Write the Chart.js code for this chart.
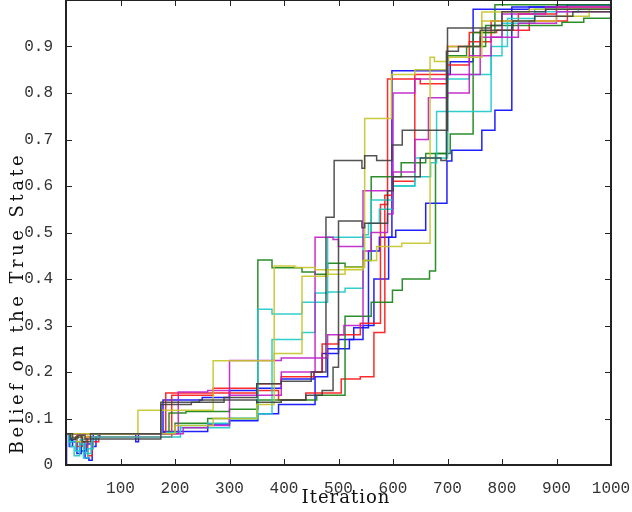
<!DOCTYPE html>
<html>
<head>
<meta charset="utf-8">
<script src="https://cdn.jsdelivr.net/npm/chart.js@4.4.0/dist/chart.umd.min.js"></script>
<style>
  html, body { margin: 0; padding: 0; background: #fff; }
  #wrap { width: 632px; height: 512px; }
</style>
</head>
<body>
<div id="wrap"><canvas id="beliefChart"></canvas></div>
<script>
// axis ticks
const iterTicks = [100, 200, 300, 400, 500, 600, 700, 800, 900, 1000];
const beliefTicks = [0, 0.1, 0.2, 0.3, 0.4, 0.5, 0.6, 0.7, 0.8, 0.9];
const lastIter = 1000;

// each run: [iteration, belief] where the belief changes
const blueA = [[0,0],[1,.067],[6,.04],[12,.055],[20,.025],[28,.05],[35,.015],[42,.01],[48,.04],[55,.06],[62,.067],[128,.05],[133,.067],[180,.072],[260,.088],[300,.095],[352,.11],[390,.13],[457,.19],[480,.25],[520,.27],[545,.3],[565,.4],[592,.49],[605,.505],[660,.563],[699,.654],[708,.677],[763,.72],[787,.763],[818,.985],[900,.99]];
const blueB = [[0,.067],[10,.05],[25,.03],[38,.045],[50,.067],[178,.14],[250,.145],[300,.16],[350,.165],[395,.185],[455,.2],[470,.24],[500,.27],[528,.295],[555,.46],[575,.49],[598,.848],[700,.84],[705,.867],[747,.98],[850,.985],[920,.99]];
const grayA = [[0,.067],[8,.055],[18,.06],[30,.05],[45,.067],[174,.135],[245,.14],[290,.145],[350,.175],[395,.18],[450,.2],[477,.533],[492,.655],[543,.638],[548,.665],[570,.655],[598,.688],[617,.72],[655,.72],[700,.94],[780,.945],[800,.975],[880,.98]];
const grayB = [[0,.067],[12,.058],[22,.064],[35,.056],[174,.13],[230,.135],[290,.14],[350,.135],[395,.14],[440,.15],[470,.16],[490,.21],[500,.525],[543,.51],[548,.52],[590,.59],[600,.62],[650,.66],[688,.655],[698,.89],[720,.9],[760,.935],[820,.955],[860,.965],[930,.975]];
const redA = [[0,.067],[20,.04],[30,.055],[40,.02],[48,.05],[60,.067],[183,.155],[270,.165],[350,.175],[395,.19],[455,.2],[470,.26],[500,.28],[540,.305],[577,.56],[590,.83],[650,.82],[700,.9],[740,.91],[780,.955],[830,.97],[900,.985]];
const redB = [[0,.067],[28,.05],[38,.06],[194,.15],[270,.155],[350,.16],[390,.14],[440,.155],[505,.185],[540,.19],[565,.285],[585,.58],[600,.61],[640,.84],[700,.86],[740,.93],[790,.935],[850,.955],[920,.98]];
const greenA = [[0,.067],[189,.112],[220,.115],[300,.12],[352,.441],[378,.424],[433,.415],[457,.41],[480,.434],[512,.426],[545,.44],[560,.62],[615,.65],[660,.67],[700,.88],[735,.9],[770,.945],[910,.952],[950,.961]];
const greenB = [[0,.067],[200,.09],[260,.1],[350,.14],[395,.14],[460,.15],[512,.32],[560,.35],[599,.376],[617,.4],[667,.417],[678,.67],[705,.712],[747,.93],[787,.99],[900,.99]];
const cyanA = [[0,.067],[8,.04],[15,.02],[25,.045],[32,.015],[40,.035],[50,.055],[58,.067],[185,.07],[210,.085],[260,.09],[300,.1],[352,.335],[378,.325],[433,.35],[457,.37],[480,.372],[512,.38],[545,.49],[560,.57],[600,.6],[640,.62],[669,.65],[680,.76],[740,.76],[780,.9],[810,.96],[860,.975],[940,.98]];
const cyanB = [[0,.067],[5,.05],[18,.03],[26,.055],[36,.025],[46,.06],[210,.08],[300,.1],[352,.11],[378,.27],[433,.285],[457,.35],[480,.49],[545,.495],[555,.52],[575,.55],[600,.6],[640,.66],[700,.83],[740,.84],[780,.88],[800,.95],[860,.98]];
const magentaA = [[0,.067],[206,.157],[260,.16],[300,.15],[350,.15],[395,.2],[457,.49],[490,.485],[500,.47],[545,.59],[580,.59],[600,.8],[640,.83],[700,.84],[760,.92],[800,.97],[880,.985]];
const magentaB = [[0,.067],[215,.08],[260,.085],[300,.225],[395,.23],[457,.23],[480,.28],[510,.3],[545,.46],[560,.5],[590,.54],[600,.63],[640,.7],[665,.79],[700,.8],[740,.88],[780,.92],[830,.95],[900,.975]];
const yellowA = [[0,.067],[10,.06],[20,.05],[30,.06],[40,.067],[132,.118],[270,.224],[382,.428],[420,.425],[457,.42],[480,.41],[512,.425],[548,.745],[597,.84],[640,.85],[700,.9],[763,.974],[850,.98]];
const yellowB = [[0,.067],[200,.085],[270,.1],[350,.13],[382,.24],[433,.406],[480,.42],[545,.44],[570,.47],[616,.477],[668,.877],[676,.868],[702,.877],[763,.955],[900,.965],[960,.98]];

const runs = [
    { data: grayA, color: 'rgba(64,64,64,0.9)' },
    { data: grayB, color: 'rgba(64,64,64,0.9)' },
    { data: yellowA, color: 'rgba(196,196,40,0.9)' },
    { data: yellowB, color: 'rgba(196,196,40,0.9)' },
    { data: magentaA, color: 'rgba(190,30,200,0.9)' },
    { data: magentaB, color: 'rgba(190,30,200,0.9)' },
    { data: cyanA, color: 'rgba(30,200,200,0.9)' },
    { data: cyanB, color: 'rgba(30,200,200,0.9)' },
    { data: greenA, color: 'rgba(20,130,20,0.9)' },
    { data: greenB, color: 'rgba(20,130,20,0.9)' },
    { data: redA, color: 'rgba(255,20,20,0.9)' },
    { data: redB, color: 'rgba(255,20,20,0.9)' },
    { data: blueA, color: 'rgba(20,20,255,0.95)' },
    { data: blueB, color: 'rgba(20,20,255,0.95)' }
];

// box + inward ticks + axis titles (matlab style)
const frame = {
    id: 'frame',
    afterDraw(chart) {
        const { ctx, chartArea: a, scales: { x, y } } = chart;
        ctx.save();
        ctx.strokeStyle = '#222'; ctx.lineWidth = 1;
        iterTicks.forEach(v => {
            const px = Math.round(x.getPixelForValue(v)) + 0.5;
            ctx.beginPath(); ctx.moveTo(px, a.bottom); ctx.lineTo(px, a.bottom - 6);
            ctx.moveTo(px, a.top); ctx.lineTo(px, a.top + 6); ctx.stroke();
        });
        beliefTicks.forEach(v => {
            const py = Math.round(y.getPixelForValue(v)) + 0.5;
            ctx.beginPath(); ctx.moveTo(a.left, py); ctx.lineTo(a.left + 6, py);
            ctx.moveTo(a.right, py); ctx.lineTo(a.right - 6, py); ctx.stroke();
        });
        ctx.lineWidth = 2;
        ctx.strokeRect(a.left, a.top, a.right - a.left, a.bottom - a.top);

        ctx.fillStyle = '#111';
        ctx.textAlign = 'center'; ctx.textBaseline = 'alphabetic';
        ctx.font = '18px "DejaVu Serif"';
        ctx.letterSpacing = '1px';
        ctx.fillText('Iteration', 346, 503);
        ctx.letterSpacing = '3.5px';
        ctx.translate(23, 303); ctx.rotate(-Math.PI / 2);
        ctx.fillText('Belief on the True State', 0, 0);
        ctx.restore();
    }
};

new Chart(document.getElementById('beliefChart').getContext('2d'), {
    type: 'line',
    data: {
        datasets: runs.map(r => {
            const pts = r.data.map(p => ({ x: p[0], y: p[1] }));
            pts.push({ x: lastIter, y: r.data[r.data.length - 1][1] });
            return { data: pts, borderColor: r.color, borderWidth: 1.5, stepped: true, pointRadius: 0, fill: false };
        })
    },
    options: {
        responsive: true, maintainAspectRatio: false, animation: false,
        layout: { padding: { left: 0, right: 21, top: 0, bottom: 0 } },
        plugins: { legend: { display: false }, tooltip: { enabled: false } },
        scales: {
            x: {
                type: 'linear', min: 0, max: 1000,
                afterFit: s => { s.height = 47; s.paddingLeft = 0; s.paddingRight = 0; },
                afterBuildTicks: s => { s.ticks = iterTicks.map(v => ({ value: v })); },
                grid: { display: false }, border: { display: false },
                ticks: { color: '#333', padding: 6, maxRotation: 0, font: { family: 'Liberation Mono', size: 16 },
                         callback: v => String(v) }
            },
            y: {
                min: 0, max: 1,
                afterFit: s => { s.width = 66; s.paddingTop = 0; s.paddingBottom = 0; },
                afterBuildTicks: s => { s.ticks = beliefTicks.map(v => ({ value: v })); },
                grid: { display: false }, border: { display: false },
                ticks: { color: '#333', padding: 5, font: { family: 'Liberation Mono', size: 16 },
                         callback: v => v === 0 ? '0' : v.toFixed(1) }
            }
        }
    },
    plugins: [frame]
});
</script>
</body>
</html>
